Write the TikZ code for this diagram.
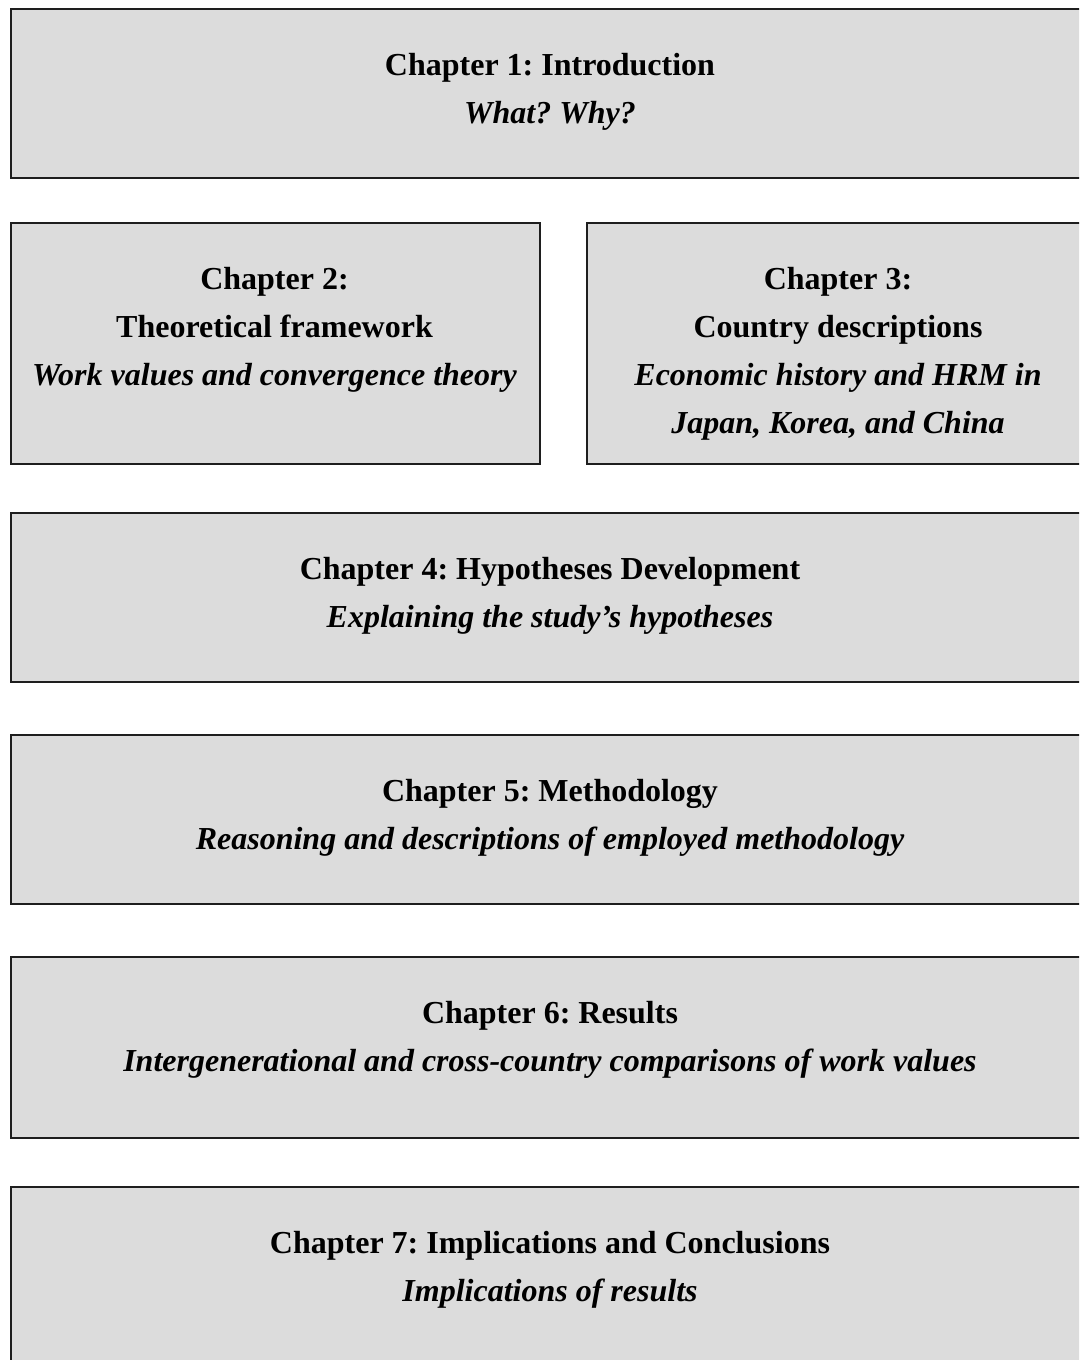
\documentclass[tikz,border=0pt]{standalone}
\usepackage{fontspec}
\setmainfont{Liberation Serif}
\frenchspacing
\definecolor{boxfill}{RGB}{220,220,220}
\definecolor{boxline}{RGB}{30,30,30}
\tikzset{
  chapbox/.style={draw=boxline, fill=boxfill, line width=1.6pt, inner sep=0pt, anchor=north west},
  ttl/.style={anchor=base, inner sep=0pt, font=\fontsize{32}{38}\selectfont\bfseries},
  sub/.style={anchor=base, inner sep=0pt, font=\fontsize{32}{38}\selectfont\bfseries\itshape},
}
\begin{document}
\begin{tikzpicture}[x=1pt,y=-1pt]
\useasboundingbox (0,0) rectangle (1079,1360);
\clip (0,0) rectangle (1079,1360);
% boxes
\node[chapbox, minimum width=1080pt, minimum height=169pt] (b1) at (10,8) {};
\node[chapbox, minimum width=529pt, minimum height=241pt] (b2) at (10,222) {};
\node[chapbox, minimum width=504pt, minimum height=241pt] (b3) at (586,222) {};
\node[chapbox, minimum width=1080pt, minimum height=169pt] (b4) at (10,512) {};
\node[chapbox, minimum width=1080pt, minimum height=169pt] (b5) at (10,734) {};
\node[chapbox, minimum width=1080pt, minimum height=181pt] (b6) at (10,956) {};
\node[chapbox, minimum width=1080pt, minimum height=220pt] (b7) at (10,1186) {};
% texts
\node[ttl] (t1a) at (550,75) {Chapter 1: Introduction};
\node[sub] (t1b) at (550,123) {What? Why?};
\node[ttl] (t2a) at (274.5,289) {Chapter 2:};
\node[ttl] (t2b) at (274.5,337) {Theoretical framework};
\node[sub] (t2c) at (274.5,385) {Work values and convergence theory};
\node[ttl] (t3a) at (838,289) {Chapter 3:};
\node[ttl] (t3b) at (838,337) {Country descriptions};
\node[sub] (t3c) at (838,385) {Economic history and HRM in};
\node[sub] (t3d) at (838,433) {Japan, Korea, and China};
\node[ttl] (t4a) at (550,579) {Chapter 4: Hypotheses Development};
\node[sub] (t4b) at (550,627) {Explaining the study’s hypotheses};
\node[ttl] (t5a) at (550,801) {Chapter 5: Methodology};
\node[sub] (t5b) at (550,849) {Reasoning and descriptions of employed methodology};
\node[ttl] (t6a) at (550,1023) {Chapter 6: Results};
\node[sub] (t6b) at (550,1071) {Intergenerational and cross-country comparisons of work values};
\node[ttl] (t7a) at (550,1253) {Chapter 7: Implications and Conclusions};
\node[sub] (t7b) at (550,1301) {Implications of results};
\end{tikzpicture}
\end{document}
